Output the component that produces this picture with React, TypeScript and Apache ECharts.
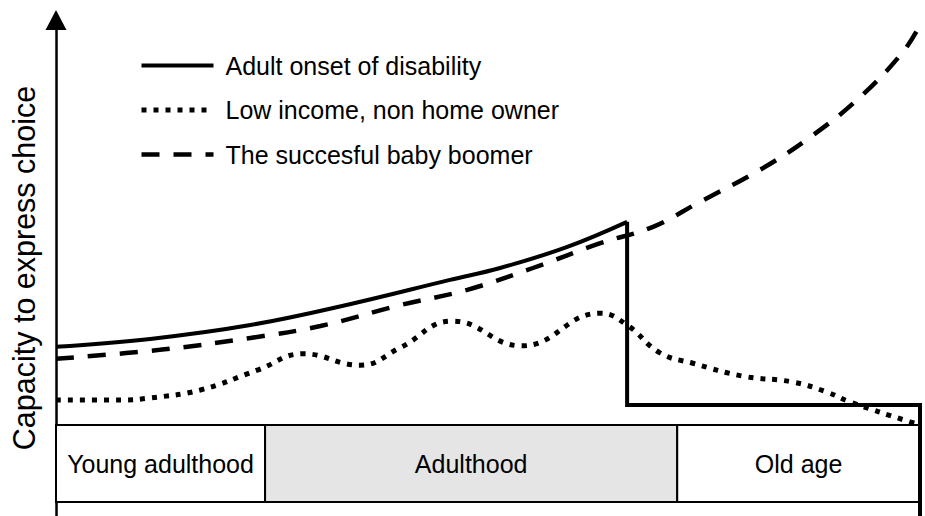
import React, { useEffect, useRef } from "react";
import * as echarts from "echarts";

// Life course position (0 = start of young adulthood, 100 = end of old age)
// Capacity to express choice (arbitrary 0-100 scale)

const seriesNames = [
  "Adult onset of disability",
  "Low income, non home owner",
  "The succesful baby boomer",
];

// Adult onset of disability: rising curve, then sudden drop
const disabilityCurveX = [0, 10.9, 22.5, 34.0, 45.6, 51.4, 59.1, 66.1];
const disabilityCurveY = [34.1, 35.7, 38.5, 42.7, 47.6, 50.0, 54.2, 59.3];
const disabilityDropX = [66.1, 66.1, 100, 100];
const disabilityDropY = [59.3, 22.4, 22.4, 0];

// Low income, non home owner: wavy, then decline
const lowIncomeX = [0, 7.5, 10.9, 16.7, 23.3, 28.6, 35.2, 39.8, 45.9, 53.9, 63.0, 66.1, 69.9, 73.7, 79.5, 85.3, 89.2, 91.9, 98.8, 100];
const lowIncomeY = [23.4, 23.4, 23.8, 25.4, 29.4, 32.7, 30.4, 33.9, 39.3, 34.3, 40.9, 38.5, 32.9, 30.8, 28.2, 27.0, 25.0, 23.0, 19.0, 18.5];

// The successful baby boomer: steadily accelerating growth
const boomerX = [0, 12.0, 22.5, 30.6, 39.8, 47.6, 55.2, 63.0, 69.1, 74.5, 81.5, 87.3, 93.1, 98.0, 100];
const boomerY = [31.7, 33.5, 35.9, 38.3, 42.5, 45.6, 50.0, 55.0, 58.3, 63.3, 69.8, 76.4, 84.5, 93.5, 99.0];

// Life stages band
const stageNames = ["Young adulthood", "Adulthood", "Old age"];
const stageEdges = [0, 24.2, 71.9, 100];
const stageFill = ["#ffffff", "#e5e5e5", "#ffffff"];
const stageBand = [2.8, 18.35];

const yAxisTitle = "Capacity to express choice";

const FONT = "'Liberation Sans', Arial, Helvetica, sans-serif";

const solidStyle = { color: "#000", width: 4, type: "solid" as const };
const dottedStyle = { color: "#000", width: 5, type: [5, 7], cap: "butt" as const };
const dashedStyle = { color: "#000", width: 4.5, type: [18, 14], cap: "butt" as const };

function zip(xs: number[], ys: number[]) {
  return xs.map((x, i) => [x, ys[i]]);
}

export default function App() {
  const ref = useRef<HTMLDivElement>(null);

  useEffect(() => {
    if (!ref.current) return;
    const chart = echarts.init(ref.current, undefined, { renderer: "svg" });

    const markAreaData = stageNames.map((name, i) => [
      {
        name,
        xAxis: stageEdges[i],
        yAxis: stageBand[0],
        itemStyle: { color: stageFill[i], borderColor: "#000", borderWidth: 2 },
      },
      { xAxis: stageEdges[i + 1], yAxis: stageBand[1] },
    ]);

    const legendStyles = [solidStyle, dottedStyle, dashedStyle];

    chart.setOption({
      animation: false,
      backgroundColor: "#ffffff",
      textStyle: { fontFamily: FONT },
      grid: { left: 56, right: 5, top: 20, bottom: 0, containLabel: false },
      xAxis: { type: "value", min: 0, max: 100, show: false },
      yAxis: {
        type: "value",
        min: 0,
        max: 100,
        name: yAxisTitle,
        nameLocation: "middle",
        nameGap: 17,
        nameTextStyle: { fontSize: 30.5, color: "#000", fontFamily: FONT },
        axisLine: {
          show: true,
          symbol: ["none", "triangle"],
          symbolSize: [21, 20],
          lineStyle: { color: "#000", width: 2.5 },
        },
        axisTick: { show: false },
        axisLabel: { show: false },
        splitLine: { show: false },
      },
      legend: {
        data: seriesNames.map((name, i) => ({
          name,
          lineStyle: legendStyles[i],
          itemStyle: { color: "rgba(0,0,0,0)", borderWidth: 0, opacity: 0 },
        })),
        orient: "vertical",
        left: 134,
        top: 48,
        itemWidth: 72,
        itemHeight: 14,
        itemGap: 19.5,
        itemStyle: { color: "rgba(0,0,0,0)", borderWidth: 0, opacity: 0 },
        textStyle: { fontSize: 25, color: "#000", fontFamily: FONT, lineHeight: 25, padding: [0, 0, 0, 7] },
        selectedMode: false,
      },
      series: [
        {
          name: seriesNames[0],
          type: "line",
          smooth: 0.4,
          symbol: "none",
          clip: false,
          data: zip(disabilityCurveX, disabilityCurveY),
          lineStyle: solidStyle,
          itemStyle: { color: "#000" },
          z: 5,
        },
        {
          name: seriesNames[1],
          type: "line",
          smooth: 0.45,
          symbol: "none",
          clip: false,
          data: zip(lowIncomeX, lowIncomeY),
          lineStyle: dottedStyle,
          itemStyle: { color: "#000" },
          z: 4,
          markArea: {
            silent: true,
            z: 1,
            label: { show: true, position: "inside", fontSize: 25, color: "#000", fontFamily: FONT },
            data: markAreaData,
          },
        },
        {
          name: seriesNames[2],
          type: "line",
          smooth: 0.4,
          symbol: "none",
          clip: false,
          data: zip(boomerX, boomerY),
          lineStyle: dashedStyle,
          itemStyle: { color: "#000" },
          z: 4,
        },
        {
          name: seriesNames[0],
          type: "line",
          smooth: false,
          symbol: "none",
          clip: false,
          data: zip(disabilityDropX, disabilityDropY),
          lineStyle: { ...solidStyle, join: "miter" },
          itemStyle: { color: "#000" },
          z: 5,
        },
      ],
    });

    return () => chart.dispose();
  }, []);

  return (
    <div
      ref={ref}
      style={{ position: "fixed", left: 0, top: 0, width: 925, height: 516, background: "#fff" }}
    />
  );
}
